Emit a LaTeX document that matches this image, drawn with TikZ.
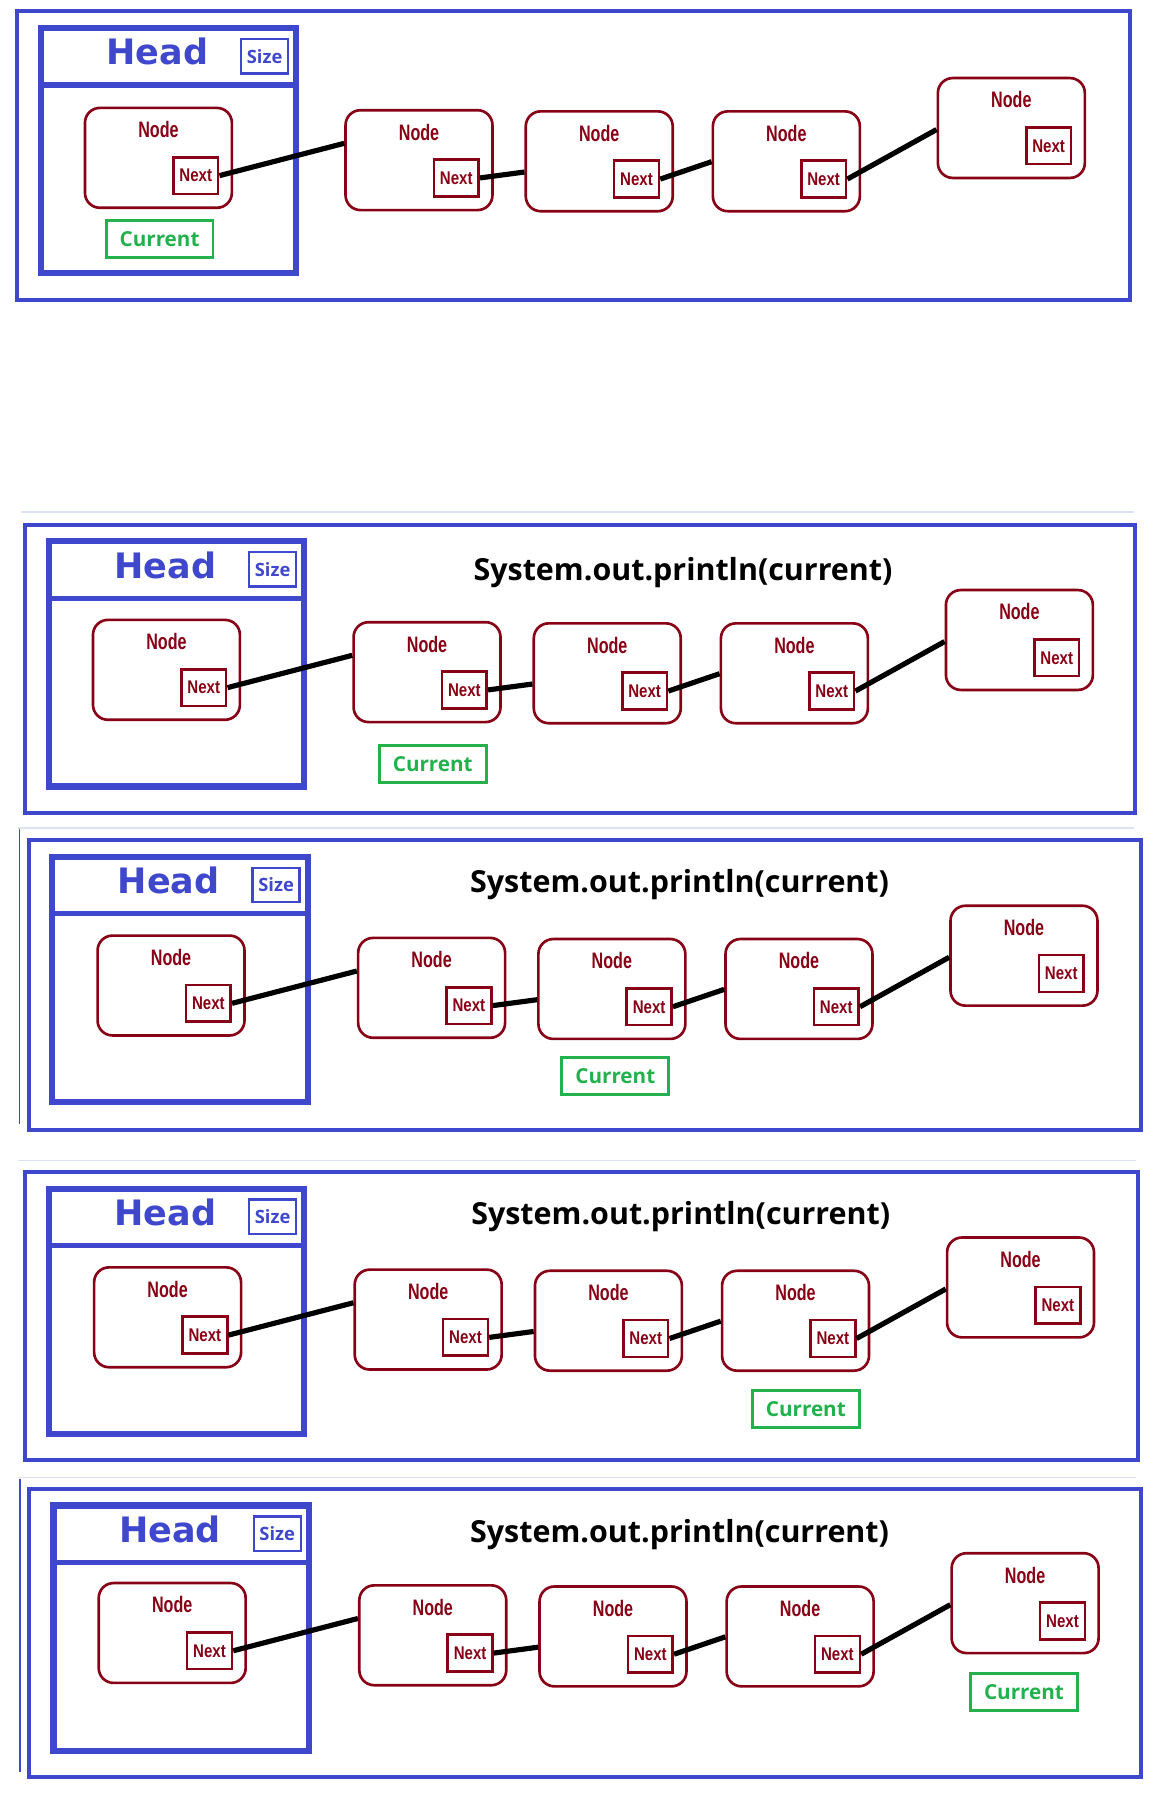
\documentclass[tikz,border=0pt]{standalone}
\usepackage{fontspec}
\setmainfont{Liberation Sans}
\newfontfamily\headfont{DejaVu Sans}
\newfontfamily\osfont{Open Sans}
\newfontfamily\nodefont[FakeStretch=0.72]{Liberation Sans}
\newfontfamily\nextfont[FakeStretch=0.82]{Liberation Sans}
\definecolor{pblue}{HTML}{3F48CC}
\definecolor{dred}{HTML}{880015}
\definecolor{pgreen}{HTML}{22B14C}
\definecolor{faint}{HTML}{DDE1F4}
\begin{document}
\begin{tikzpicture}[x=1pt,y=-1pt,
  outerbox/.style={draw=pblue, line width=3.5pt},
  headbox/.style={draw=pblue, line width=5.5pt},
  divider/.style={draw=pblue, line width=4.5pt},
  headlabel/.style={text=pblue, font=\headfont\bfseries\fontsize{30.5}{30.5}\selectfont, inner sep=0pt},
  sizebox/.style={draw=pblue, line width=2pt, minimum width=41pt, minimum height=30pt, inner sep=0pt, text=pblue, font=\osfont\bfseries\fontsize{16}{16}\selectfont},
  llnode/.style={draw=dred, line width=2.3pt, rounded corners=13pt, minimum width=128pt, minimum height=87pt, inner sep=0pt},
  nodelabel/.style={text=dred, font=\nodefont\bfseries\fontsize{19.5}{19.5}\selectfont, inner sep=0pt},
  nextbox/.style={draw=dred, line width=2.3pt, minimum width=39pt, minimum height=32pt, inner sep=0pt, text=dred, font=\nextfont\bfseries\fontsize{16}{16}\selectfont},
  curbox/.style={draw=pgreen, line width=2.5pt, minimum width=93pt, minimum height=32pt, inner sep=0pt, text=pgreen, font=\osfont\bfseries\fontsize{18}{18}\selectfont},
  link/.style={draw=black, line width=4.5pt},
  titletext/.style={text=black, font=\osfont\bfseries\fontsize{26.5}{26.5}\selectfont, inner sep=0pt, anchor=base},
  faintline/.style={draw=faint, line width=1.5pt},
  edgeline/.style={draw=pblue, line width=1.2pt}
]
\useasboundingbox (0,0) rectangle (1004,1568);
\fill[white] (0,0) rectangle (1004,1568);
% separator artifacts
\draw[faintline] (18,446) -- (988,446);
\draw[faintline] (16,721) -- (988,721);
\draw[faintline] (16,1011) -- (990,1011);
\draw[faintline] (16,1287) -- (990,1287);
\draw[edgeline] (17,722) -- (17,979);
\draw[edgeline] (17.4,1288) -- (17.4,1544);
\foreach \p/\oxa/\oya/\oxb/\oyb/\hx/\hy/\sx/\sy/\cx/\cy/\tx/\ty in {
  a/15/10/984/261/33/22/0/0/139/208/0/0,
  b/22/457/989/708/40/469/7/446/377/665.5/595/505.5,
  c/25/732/994/984/43/744/11/721/536/937.5/592/777.5,
  d/22/1021/991/1272/40/1033/8/1010/702/1227.5/593/1066.5,
  e/25/1297/994/1548/44/1309/12/1285/892/1474/592/1343.5}{
  \draw[outerbox] (\oxa,\oya) rectangle (\oxb,\oyb);
  \draw[headbox] ({\hx+2.5},{\hy+2.5}) rectangle ({\hx+225},{\hy+216});
  \draw[divider] ({\hx+2.5},{\hy+52}) -- ({\hx+225},{\hy+52});
  \node[headlabel, anchor=base] (\p-head) at ({\hx+104},{\hy+34.5}) {Head};
  \node[sizebox] (\p-size) at ({\hx+197.5},{\hy+27}) {Size};
  \foreach \i/\x/\y in {1/138/137.5, 2/365/139.5, 3/522/140.5, 4/685/140.5, 5/881/111.5}{
    \node[llnode] (\p-n\i) at ({\sx+\x},{\sy+\y}) {};
    \node[nodelabel, anchor=base] (\p-l\i) at ([yshift=17.5pt]\p-n\i.center) {Node};
    \node[nextbox] (\p-x\i) at ([xshift=32.5pt,yshift=-15.5pt]\p-n\i.center) {Next};
  }
  \foreach \a/\b/\off in {1/2/30pt, 2/3/54pt, 3/4/45pt, 4/5/46pt}{
    \draw[link] (\p-x\a.east) -- ([yshift=-\off]\p-n\b.north west);
  }
  \node[curbox] (\p-cur) at (\cx,\cy) {Current};
  \ifnum\tx>0
    \node[titletext] (\p-title) at (\tx,\ty) {System.out.println(current)};
  \fi
}
\end{tikzpicture}
\end{document}
